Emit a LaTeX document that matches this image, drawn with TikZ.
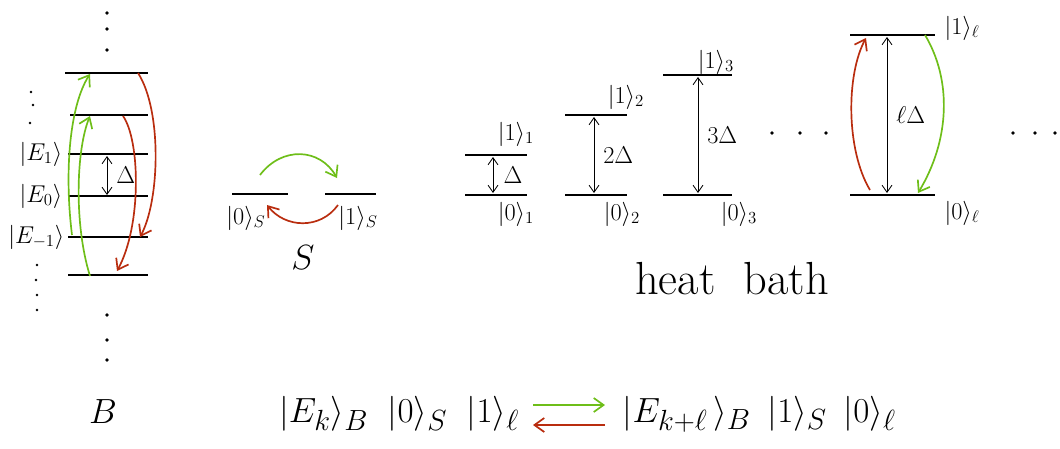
\documentclass[tikz,border=0pt]{standalone}
\usepackage{amsmath}
\usetikzlibrary{arrows, arrows.meta, math, positioning}
\definecolor{mygreen}{RGB}{110,190,25}
\definecolor{myred}{RGB}{185,45,15}

\begin{document}
\begin{tikzpicture}[x=0.025cm,y=-0.025cm,
  level/.style={line width=1.2pt},
  gap/.style={{Straight Barb[length=5pt,width=7pt]}-{Straight Barb[length=5pt,width=7pt]},line width=0.6pt},
  jump/.style={-{Straight Barb[length=7pt,width=10pt]},line width=1.2pt},
  lab/.style={inner sep=1pt}]
\tikzmath{
\r=1.4;
}
\useasboundingbox (0,0) rectangle (1060,448);

%%%%%%%%%%   bath B
\foreach \i/\y/\xa in {1/73/65,2/115/70,3/154/68,4/196/68,5/237/68,6/275/68}{
  \coordinate (bl\i) at (\xa,\y);
  \coordinate (br\i) at (148,\y);
  \draw[level] (bl\i) -- (br\i);
}
\foreach \y in {13,29,50,315,340,360} \fill (107,\y) circle (\r pt);
\foreach \x/\y in {31/92,33/105,30/123,37/265,36/280,37/295,37/310} \fill (\x,\y) circle (1pt);

\node[lab,left] (e1) at (64,154) {\LARGE$|E_1\rangle$};
\node[lab,left] (e0) at (64,196) {\LARGE$|E_0\rangle$};
\node[lab,left] (em) at (66,237) {\LARGE$|E_{-1}\rangle$};

\coordinate (d1) at (107,156);
\coordinate (d0) at (107,195);
\draw[gap] (d0) -- (d1) node[midway,right=3pt] {\LARGE$\Delta$};

\coordinate (g1a) at (72,235);  \coordinate (g1b) at (90,74);
\coordinate (g2a) at (90,276);  \coordinate (g2b) at (90,116);
\coordinate (r1a) at (138,73);  \coordinate (r1b) at (140,237);
\coordinate (r2a) at (123,116); \coordinate (r2b) at (117,271);
\draw[jump,mygreen] (g1a) .. controls (64,170) and (70,105) .. (g1b);
\draw[jump,mygreen] (g2a) .. controls (74,225) and (76,150) .. (g2b);
\draw[jump,myred] (r1a) .. controls (162,110) and (160,200) .. (r1b);
\draw[jump,myred] (r2a) .. controls (140,140) and (142,225) .. (r2b);

%%%%%%%%%%   system S
\coordinate (s0l) at (232,194); \coordinate (s0r) at (288,194);
\coordinate (s1l) at (325,194); \coordinate (s1r) at (376,194);
\draw[level] (s0l) -- (s0r);
\draw[level] (s1l) -- (s1r);
\node[lab] (s0) at (246,218) {\LARGE$|0\rangle_S$};
\node[lab] (s1) at (358,218) {\LARGE$|1\rangle_S$};
\node[lab] (sys) at (303,258) {\fontsize{24}{26}\selectfont$S$};
\coordinate (sga) at (260,175); \coordinate (sgb) at (337,178);
\coordinate (sra) at (338,205); \coordinate (srb) at (267,205);
\draw[jump,mygreen] (sga) .. controls (282,146) and (320,148) .. (sgb);
\draw[jump,myred] (sra) .. controls (320,230) and (285,228) .. (srb);

%%%%%%%%%%   heat bath modes
\foreach \m/\xa/\xb/\yt/\xd in {1/465/527/155/493,2/565/627/115/594,3/663/732/75/698,l/850/935/35/887}{
  \coordinate (m\m tl) at (\xa,\yt);   \coordinate (m\m tr) at (\xb,\yt);
  \coordinate (m\m bl) at (\xa,195);   \coordinate (m\m br) at (\xb,195);
  \coordinate (m\m t) at (\xd,\yt+2);  \coordinate (m\m b) at (\xd,193);
  \draw[level] (m\m tl) -- (m\m tr);
  \draw[level] (m\m bl) -- (m\m br);
}
\draw[gap] (m1b) -- (m1t) node[midway,right=4pt] {\LARGE$\Delta$};
\draw[gap] (m2b) -- (m2t) node[midway,right=3pt] {\LARGE$2\Delta$};
\draw[gap] (m3b) -- (m3t) node[midway,right=3pt] {\LARGE$3\Delta$};
\draw[gap] (mlb) -- (mlt) node[midway,right=3pt] {\LARGE$\ell\Delta$};

\node[lab] (u1) at (516,134) {\LARGE$|1\rangle_1$};
\node[lab] (o1) at (516,214) {\LARGE$|0\rangle_1$};
\node[lab] (u2) at (626,97) {\LARGE$|1\rangle_2$};
\node[lab] (o2) at (622,214) {\LARGE$|0\rangle_2$};
\node[lab] (u3) at (716,62) {\LARGE$|1\rangle_3$};
\node[lab] (o3) at (739,214) {\LARGE$|0\rangle_3$};
\node[lab] (ul) at (962,28) {\LARGE$|1\rangle_\ell$};
\node[lab] (ol) at (962,213) {\LARGE$|0\rangle_\ell$};

\foreach \x in {772,800,826,1013,1035,1055} \fill (\x,133) circle (\r pt);

\coordinate (lra) at (870,190); \coordinate (lrb) at (866,38);
\coordinate (lga) at (925,35);  \coordinate (lgb) at (918,193);
\draw[jump,myred] (lra) .. controls (846,150) and (846,75) .. (lrb);
\draw[jump,mygreen] (lga) .. controls (952,80) and (950,140) .. (lgb);

\node (hb) at (732,279) {\fontsize{33}{36}\selectfont heat\ \ bath};

%%%%%%%%%%   exchange
\node (bb) at (103,412) {\fontsize{38}{40}\selectfont$B$};
\node[left] (lhs) at (524,414) {\fontsize{29}{32}\selectfont$|E_k\rangle_B\hspace{14pt}|0\rangle_S\hspace{14pt}|1\rangle_\ell$};
\node[right] (rhs) at (618,414) {\fontsize{29}{32}\selectfont$|E_{k+\ell}\hspace{4pt}\rangle_B\hspace{12pt}|1\rangle_S\hspace{12pt}|0\rangle_\ell$};
\coordinate (fa) at (533,405); \coordinate (fb) at (605,405);
\coordinate (ba) at (605,425); \coordinate (bb2) at (533,425);
\draw[jump,mygreen] (fa) -- (fb);
\draw[jump,myred] (ba) -- (bb2);
\end{tikzpicture}
\end{document}
